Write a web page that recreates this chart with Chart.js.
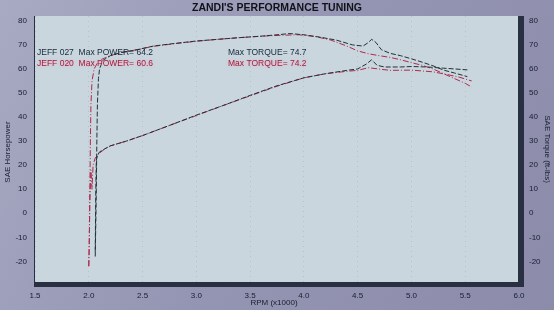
<!DOCTYPE html>
<html>
<head>
<meta charset="utf-8">
<script src="https://cdn.jsdelivr.net/npm/chart.js@4/dist/chart.umd.min.js"></script>
<style>
  html, body { margin: 0; padding: 0; background: #9a9bb6; }
  #wrap { width: 554px; height: 310px; }
</style>
</head>
<body>
<div id="wrap"><canvas id="dyno" width="554" height="310"></canvas></div>
<script>
// --- data (rpm in x1000) ---
const rpmTicks = [1.5, 2.0, 2.5, 3.0, 3.5, 4.0, 4.5, 5.0, 5.5, 6.0];
const valueTicks = [-20, -10, 0, 10, 20, 30, 40, 50, 60, 70, 80];

// JEFF 027 torque
const rpm027T = [2.06, 2.065, 2.07, 2.075, 2.08, 2.09, 2.10, 2.13, 2.2, 2.3, 2.45, 2.6, 2.8, 3.0, 3.2, 3.4, 3.6, 3.75, 3.87, 4.0, 4.15, 4.3, 4.45, 4.55, 4.6, 4.63, 4.67, 4.72, 4.8, 4.9, 5.0, 5.1, 5.2, 5.3, 5.4, 5.52];
const torque027 = [-18, -5, 10, 30, 45, 56, 60, 63.5, 65.5, 66.8, 68, 69.5, 70.6, 71.6, 72.3, 73, 73.6, 74.2, 74.7, 74.2, 73.2, 72, 70, 69.5, 71, 72.3, 71, 68, 66.5, 65.5, 64.2, 62.8, 61.3, 59.5, 58.3, 56.8];

// JEFF 027 power
const rpm027P = [2.06, 2.065, 2.07, 2.08, 2.1, 2.15, 2.2, 2.35, 2.5, 2.75, 3.0, 3.25, 3.5, 3.75, 4.0, 4.2, 4.4, 4.5, 4.58, 4.63, 4.68, 4.75, 4.9, 5.0, 5.15, 5.3, 5.4, 5.52];
const power027 = [-16, 8, 22, 24, 25.5, 26.8, 28, 30, 32.3, 36.5, 40.8, 44.8, 49, 53, 56.3, 58, 59.4, 60, 62, 63.8, 61.5, 60.8, 60.8, 61, 60.8, 60.3, 60, 59.6];

// JEFF 020 torque
const rpm020T = [2.0, 2.005, 2.01, 2.015, 2.02, 2.03, 2.05, 2.08, 2.12, 2.2, 2.3, 2.45, 2.6, 2.8, 3.0, 3.2, 3.4, 3.6, 3.8, 3.95, 4.1, 4.25, 4.4, 4.5, 4.6, 4.7, 4.8, 4.9, 5.0, 5.1, 5.2, 5.3, 5.4, 5.5, 5.56];
const torque020 = [-22, -10, 10, 30, 45, 55, 60, 62.5, 64, 65.5, 66.8, 68, 69.4, 70.5, 71.5, 72.3, 73, 73.6, 74, 74.2, 73.5, 72, 69.5, 67.5, 66.3, 65.5, 64.8, 63.8, 62.6, 61.5, 60, 58, 56, 54, 52.5];

// JEFF 020 power
const rpm020P = [2.0, 2.005, 2.01, 2.02, 2.03, 2.04, 2.06, 2.1, 2.15, 2.2, 2.35, 2.5, 2.75, 3.0, 3.25, 3.5, 3.75, 4.0, 4.2, 4.4, 4.5, 4.6, 4.8, 5.0, 5.2, 5.35, 5.45, 5.56];
const power020 = [-22, -12, 5, 18, 10, 20, 23, 25, 26.8, 28, 30, 32.3, 36.5, 40.6, 44.8, 48.8, 52.8, 56.3, 58, 59, 59.4, 60.5, 59.4, 59.5, 58.8, 57.5, 56.5, 55];

const FONT = "'Liberation Sans', Arial, sans-serif";
const INK = '#161e30';
const C027 = '#1f3236';
const C020 = '#b02a4c';

function pts(xs, ys) {
    return xs.map((x, i) => ({ x: x, y: ys[i] }));
}

// background, plot panel, frame and free texts
const sheet = {
    id: 'sheet',
    beforeDraw(chart) {
        const { ctx, chartArea: a, width, height } = chart;
        ctx.save();
        const g = ctx.createLinearGradient(0, 0, width, height);
        g.addColorStop(0, '#a8a9c2');
        g.addColorStop(0.5, '#9495b2');
        g.addColorStop(1, '#8c8caa');
        ctx.fillStyle = g;
        ctx.fillRect(0, 0, width, height);
        ctx.fillStyle = '#c9d6de';
        ctx.fillRect(a.left, a.top, a.right - a.left, a.bottom - a.top);
        ctx.restore();
    },
    afterDatasetsDraw(chart) {
        const { ctx, chartArea: a } = chart;
        ctx.save();
        // dark frame
        ctx.fillStyle = '#283042';
        ctx.fillRect(a.left - 1, a.bottom - 1, a.right - a.left + 6, 5);
        ctx.fillRect(a.right - 1, a.top, 6, a.bottom - a.top + 4);
        ctx.fillRect(a.left - 1, a.top, 1, a.bottom - a.top);

        // title
        ctx.fillStyle = '#101218';
        ctx.font = 'bold 10.5px ' + FONT;
        ctx.textAlign = 'center';
        ctx.textBaseline = 'middle';
        ctx.fillText("ZANDI'S PERFORMANCE TUNING", 277, 8);

        // run labels
        ctx.font = '8.5px ' + FONT;
        ctx.textAlign = 'left';
        ctx.fillStyle = '#16283a';
        ctx.fillText('JEFF 027  Max POWER= 64.2', 37, 53);
        ctx.fillText('Max TORQUE= 74.7', 228, 53);
        ctx.shadowColor = '#f0a8c0';
        ctx.shadowBlur = 3;
        ctx.fillStyle = '#a0203e';
        ctx.fillText('JEFF 020  Max POWER= 60.6', 37, 64);
        ctx.fillText('Max TORQUE= 74.2', 228, 64);
        ctx.shadowBlur = 0;

        // axis titles
        ctx.fillStyle = INK;
        ctx.font = '8px ' + FONT;
        ctx.textAlign = 'center';
        ctx.fillText('RPM (x1000)', 274, 303);
        ctx.translate(8, 152);
        ctx.rotate(-Math.PI / 2);
        ctx.fillText('SAE Horsepower', 0, 0);
        ctx.setTransform(1, 0, 0, 1, 0, 0);
        ctx.translate(547, 149);
        ctx.rotate(Math.PI / 2);
        ctx.fillText('SAE Torque (ft-lbs)', 0, 0);
        ctx.restore();
    }
};

const yAxis = (pos) => ({
    position: pos,
    min: -29,
    max: 82,
    afterBuildTicks: s => { s.ticks = valueTicks.map(v => ({ value: v })); },
    afterFit: s => { s.width = 35; },
    grid: { display: false, drawTicks: false },
    border: { display: false },
    ticks: { color: INK, padding: pos === 'left' ? 8 : 10, font: { family: FONT, size: 8 } }
});

new Chart(document.getElementById('dyno'), {
    type: 'scatter',
    data: {
        datasets: [
            { label: 'JEFF 027 Torque', data: pts(rpm027T, torque027), borderColor: C027, borderDash: [5, 2], yAxisID: 'y2' },
            { label: 'JEFF 027 Power', data: pts(rpm027P, power027), borderColor: C027, borderDash: [5, 2], yAxisID: 'y' },
            { label: 'JEFF 020 Torque', data: pts(rpm020T, torque020), borderColor: C020, borderDash: [6, 2, 1, 2], yAxisID: 'y2' },
            { label: 'JEFF 020 Power', data: pts(rpm020P, power020), borderColor: C020, borderDash: [6, 2, 1, 2], yAxisID: 'y' }
        ].map(d => Object.assign(d, { showLine: true, pointRadius: 0, borderWidth: 1, tension: 0 }))
    },
    options: {
        responsive: false,
        animation: false,
        layout: { padding: { top: 16, left: 0, right: 0, bottom: 0 } },
        plugins: { legend: { display: false }, tooltip: { enabled: false } },
        scales: {
            x: {
                type: 'linear',
                min: 1.5,
                max: 6.0,
                afterBuildTicks: s => { s.ticks = rpmTicks.map(v => ({ value: v })); },
                afterFit: s => { s.height = 27; },
                grid: { color: 'rgba(110,120,140,0.22)', drawTicks: false, lineWidth: 1 },
                border: { display: false, dash: [1, 4] },
                ticks: { color: INK, padding: 8, font: { family: FONT, size: 8 }, callback: v => v.toFixed(1) }
            },
            y: yAxis('left'),
            y2: yAxis('right')
        }
    },
    plugins: [sheet]
});
</script>
</body>
</html>
